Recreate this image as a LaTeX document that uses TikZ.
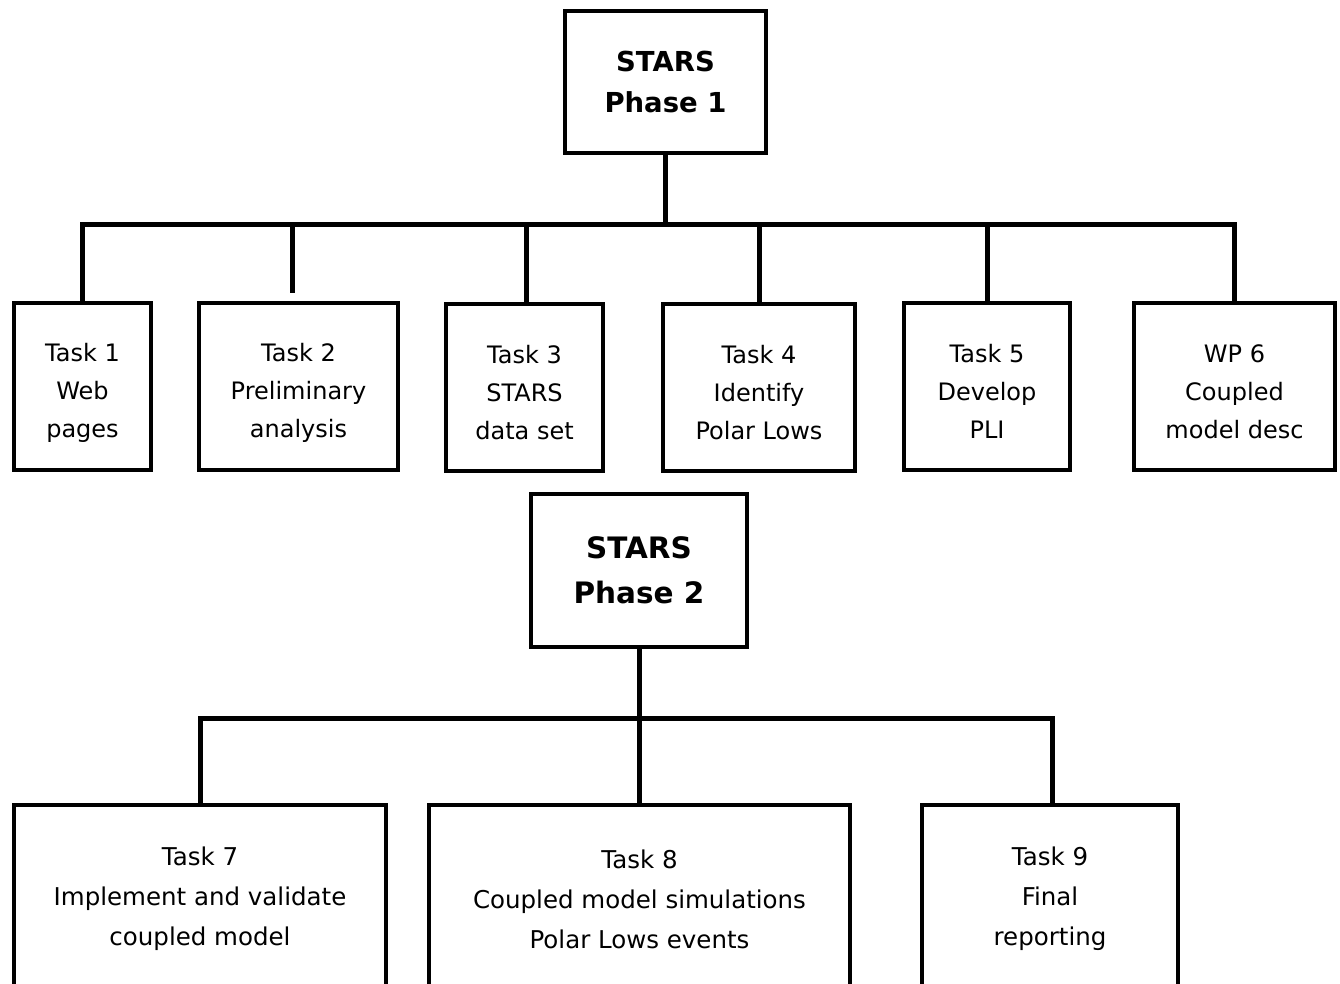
\documentclass[tikz,border=0pt]{standalone}
\usepackage{fontspec}
\setmainfont{DejaVu Sans}
\begin{document}
\begin{tikzpicture}[x=1pt,y=-1pt,
  box/.style={draw, line width=4.5pt, inner sep=0pt, align=center, fill=white},
  toptask/.style={box, minimum height=167pt},
  bottask/.style={box, minimum height=186pt},
  toptext/.style={inner sep=0pt, align=center, font=\fontsize{24}{38}\selectfont},
  bottext/.style={inner sep=0pt, align=center, font=\fontsize{24.5}{40}\selectfont},
  conn/.style={line width=5pt, line join=miter}]
\useasboundingbox (0,0) rectangle (1340,983);
\clip (0,0) rectangle (1340,983);
\fill[white] (0,0) rectangle (1340,983);

% Phase 1
\node[box, minimum width=201pt, minimum height=142pt, font=\bfseries\fontsize{27.5}{41}\selectfont] (p1) at (665.5,82) {STARS\\Phase 1};
\node[toptask, minimum width=137pt] (t1) at (82.5,386.5) {};
\node[toptask, minimum width=199pt] (t2) at (298.5,386.5) {};
\node[toptask, minimum width=157pt] (t3) at (524.5,387.5) {};
\node[toptask, minimum width=192pt] (t4) at (759,387.5) {};
\node[toptask, minimum width=166pt] (t5) at (987,386.5) {};
\node[toptask, minimum width=201pt] (t6) at (1234.5,386.5) {};
\node[toptext] (t1l) at ([yshift=-6pt]t1.center) {Task 1\\Web\\pages};
\node[toptext] (t2l) at ([yshift=-6pt]t2.center) {Task 2\\Preliminary\\analysis};
\node[toptext] (t3l) at ([yshift=-5pt]t3.center) {Task 3\\STARS\\data set};
\node[toptext] (t4l) at ([yshift=-5pt]t4.center) {Task 4\\Identify\\Polar Lows};
\node[toptext] (t5l) at ([yshift=-5pt]t5.center) {Task 5\\Develop\\PLI};
\node[toptext] (t6l) at ([yshift=-5pt]t6.center) {WP 6\\Coupled\\model desc};

\coordinate (bus1) at (665,224);
\draw[conn] (p1.south -| bus1) -- (bus1);
\draw[conn] (t1.north) |- (bus1) -| ([xshift=-0.5pt]t6.north);
\draw[conn, shorten >=8pt] (bus1 -| 292,0) -- (292,0 |- t2.north);
\draw[conn] (bus1 -| 526,0) -- (526,0 |- t3.north);
\draw[conn] (bus1 -| t4.north) -- (t4.north);
\draw[conn] (bus1 -| t5.north) -- (t5.north);

% Phase 2
\node[box, minimum width=216pt, minimum height=153pt, font=\bfseries\fontsize{29.5}{45}\selectfont] (p2) at (639,570.5) {STARS\\Phase 2};
\node[bottask, minimum width=372pt] (t7) at (200,898) {};
\node[bottask, minimum width=421pt] (t8) at (639.5,898) {};
\node[bottask, minimum width=256pt] (t9) at (1050,898) {};
\node[bottext] (t7l) at ([yshift=-1pt]t7.center) {Task 7\\Implement and validate\\coupled model};
\node[bottext] (t8l) at ([yshift=-1pt]t8.center) {Task 8\\Coupled model simulations\\Polar Lows events};
\node[bottext] (t9l) at ([yshift=-1pt]t9.center) {Task 9\\Final\\reporting};

\coordinate (bus2) at (639,718);
\draw[conn] (p2.south) -- (bus2);
\draw[conn] (t7.north) |- (bus2) -| (1052,0 |- t9.north);
\draw[conn] (bus2 -| t8.north) -- (t8.north);
\end{tikzpicture}
\end{document}
